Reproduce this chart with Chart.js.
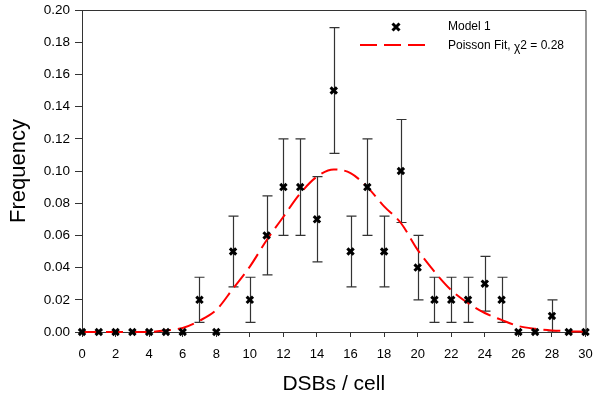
<!DOCTYPE html>
<html>
<head>
<meta charset="utf-8">
<script src="https://cdn.jsdelivr.net/npm/chart.js@4"></script>
<style>
  body { margin: 0; background: white; }
  #box { width: 593px; height: 401px; }
</style>
</head>
<body>
<div id="box"><canvas id="myChart"></canvas></div>
<script>
// DONNEES
var dsbs = [0,1,2,3,4,5,6,7,8,9,10,11,12,13,14,15,16,17,18,19,20,21,22,23,24,25,26,27,28,29,30];
var freq = [0,0,0,0,0,0,0,0.02,0,0.05,0.02,0.06,0.09,0.09,0.07,0.15,0.05,0.09,0.05,0.10,0.04,0.02,0.02,0.02,0.03,0.02,0,0,0.01,0,0];
var erreur = [0,0,0,0,0,0,0,0.014,0,0.022,0.014,0.0245,0.03,0.03,0.0265,0.039,0.022,0.03,0.022,0.032,0.02,0.014,0.014,0.014,0.017,0.014,0,0,0.01,0,0];
var fitX = [0,1,2,3,4,5,6,7,8,9,10,11,12,13,14,15,16,17,18,19,20,21,22,23,24,25,26,27,28,29,30];
var fitY = [0,0,0,0,0,0.001,0.0025,0.007,0.0137,0.027,0.0406,0.057,0.0716,0.086,0.0965,0.101,0.0987,0.090,0.078,0.0677,0.051,0.0375,0.026,0.018,0.0118,0.0075,0.0037,0.002,0.001,0.0005,0.0002];
var yTicks = [0,0.02,0.04,0.06,0.08,0.10,0.12,0.14,0.16,0.18,0.20];

var points = [];
for (var i = 0; i < dsbs.length; i++) {
    points.push({x: dsbs[i], y: freq[i]});
}
var courbe = [];
for (var i = 0; i < fitX.length; i++) {
    courbe.push({x: fitX[i], y: fitY[i]});
}

// BARRES D'ERREUR + CADRE + LEGENDE
var extras = {
    id: 'extras',
    beforeDatasetsDraw: function(chart) {
        var ctx = chart.ctx;
        var xs = chart.scales.x, ys = chart.scales.y;
        ctx.save();
        ctx.strokeStyle = '#333';
        ctx.lineWidth = 1.2;
        for (var i = 0; i < dsbs.length; i++) {
            if (!erreur[i]) continue;
            var px = Math.round(xs.getPixelForValue(dsbs[i])) + 0.5;
            var top = ys.getPixelForValue(freq[i] + erreur[i]);
            var bot = ys.getPixelForValue(Math.max(0, freq[i] - erreur[i]));
            ctx.beginPath();
            ctx.moveTo(px, top); ctx.lineTo(px, bot);
            ctx.moveTo(px - 5, top); ctx.lineTo(px + 5, top);
            ctx.moveTo(px - 5, bot); ctx.lineTo(px + 5, bot);
            ctx.stroke();
        }
        ctx.restore();
    },
    afterDraw: function(chart) {
        var ctx = chart.ctx;
        var a = chart.chartArea;
        ctx.save();
        ctx.strokeStyle = '#333';
        ctx.lineWidth = 1;
        ctx.beginPath();
        ctx.moveTo(a.left, a.top + 0.5); ctx.lineTo(a.right + 0.5, a.top + 0.5);
        ctx.lineTo(a.right + 0.5, a.bottom);
        ctx.stroke();

        // legende
        ctx.strokeStyle = 'black';
        ctx.lineWidth = 3;
        var mx = 396, my = 27, r = 3.5;
        ctx.beginPath();
        ctx.moveTo(mx - r, my - r); ctx.lineTo(mx + r, my + r);
        ctx.moveTo(mx + r, my - r); ctx.lineTo(mx - r, my + r);
        ctx.stroke();
        ctx.strokeStyle = 'red';
        ctx.lineWidth = 2;
        ctx.setLineDash([17, 7]);
        ctx.beginPath();
        ctx.moveTo(360, 45); ctx.lineTo(425, 45);
        ctx.stroke();
        ctx.setLineDash([]);
        ctx.fillStyle = 'black';
        ctx.font = '12px "Liberation Sans", Arial';
        ctx.textBaseline = 'middle';
        ctx.fillText('Model 1', 448, 27);
        ctx.fillText('Poisson Fit, ', 448, 46);
        var w = ctx.measureText('Poisson Fit, ').width;
        ctx.fillText('\u03c7', 448 + w, 48);
        var w2 = ctx.measureText('\u03c7').width;
        ctx.fillText('2 = 0.28', 448 + w + w2, 46);
        ctx.restore();
    }
};

new Chart(document.getElementById("myChart"), {
    type: 'scatter',
    data: {
        datasets: [{
            label: 'Poisson Fit',
            type: 'line',
            data: courbe,
            borderColor: 'red',
            borderWidth: 2,
            borderDash: [17, 7],
            pointRadius: 0,
            fill: false,
            clip: 3,
            cubicInterpolationMode: 'monotone',
            order: 2
        }, {
            label: 'Model 1',
            data: points,
            pointStyle: 'crossRot',
            pointRadius: 4.5,
            borderColor: 'black',
            borderWidth: 3,
            clip: false,
            order: 1
        }]
    },
    options: {
        responsive: true,
        maintainAspectRatio: false,
        animation: false,
        layout: { padding: { top: 10, right: 7, left: 0, bottom: 0 } },
        plugins: { legend: { display: false }, tooltip: { enabled: false } },
        scales: {
            x: {
                type: 'linear',
                min: 0, max: 30,
                afterFit: function(s) { s.height = 69; s.paddingLeft = 0; s.paddingRight = 0; },
                ticks: { stepSize: 2, color: 'black', font: { size: 13, family: '"Liberation Sans", Arial' }, padding: 10 },
                grid: { display: true, drawOnChartArea: false, drawTicks: true, tickLength: 5, color: '#333' },
                border: { color: '#333', width: 1 },
                title: { display: true, text: 'DSBs / cell', color: 'black', font: { size: 21, family: '"Liberation Sans", Arial' }, padding: { top: 14 } }
            },
            y: {
                min: 0, max: 0.2,
                afterFit: function(s) { s.width = 82; s.paddingTop = 0; s.paddingBottom = 0; },
                afterBuildTicks: function(s) { s.ticks = yTicks.map(function(v) { return {value: v}; }); },
                ticks: { color: 'black', font: { size: 13.5, family: '"Liberation Sans", Arial' }, padding: 5,
                    callback: function(v) { return v.toFixed(2); } },
                grid: { display: true, drawOnChartArea: false, drawTicks: true, tickLength: 7, color: '#333' },
                border: { color: '#333', width: 1 },
                title: { display: true, text: 'Frequency', color: 'black', font: { size: 22, family: '"Liberation Sans", Arial' }, padding: { top: 6, bottom: 0 } }
            }
        }
    },
    plugins: [extras]
});
</script>
</body>
</html>
